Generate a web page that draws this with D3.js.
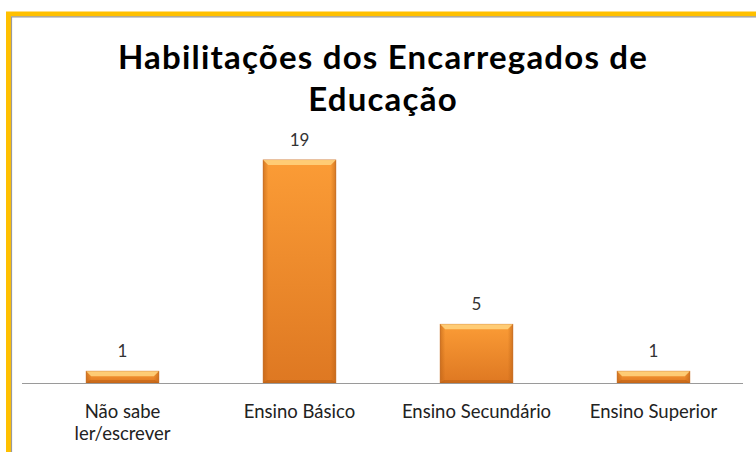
<!DOCTYPE html>
<html>
<head>
<meta charset="utf-8">
<script src="https://cdn.jsdelivr.net/npm/d3@7"></script>
<style>
  body { margin: 0; background: #fff; }
  svg { display: block; }
</style>
</head>
<body>
<svg id="chart"></svg>
<script>
// data
const categories = ["Não sabe\nler/escrever", "Ensino Básico", "Ensino Secundário", "Ensino Superior"];
const values = [1, 19, 5, 1];
const titleLines = ["Habilitações dos Encarregados de", "Educação"];

const width = 756, height = 452;
const margin = {top: 160, right: 14, bottom: 69, left: 34};
const font = "Lato, 'Open Sans', sans-serif";

const svg = d3.select("#chart")
    .attr("width", width)
    .attr("height", height)
    .style("font-family", font);

// gradients for the bevelled bars
const defs = svg.append("defs");
const grad = defs.append("linearGradient").attr("id", "barFill")
    .attr("x1", 0).attr("y1", 0).attr("x2", 0).attr("y2", 1);
grad.append("stop").attr("offset", "0%").attr("stop-color", "#fb9c36");
grad.append("stop").attr("offset", "100%").attr("stop-color", "#de7822");

const side = defs.append("linearGradient").attr("id", "barSide")
    .attr("x1", 0).attr("y1", 0).attr("x2", 1).attr("y2", 0);
side.append("stop").attr("offset", "0%").attr("stop-color", "#b85f14").attr("stop-opacity", 0.55);
side.append("stop").attr("offset", "7%").attr("stop-color", "#b85f14").attr("stop-opacity", 0);
side.append("stop").attr("offset", "93%").attr("stop-color", "#b85f14").attr("stop-opacity", 0);
side.append("stop").attr("offset", "100%").attr("stop-color", "#b85f14").attr("stop-opacity", 0.55);

// frame
svg.append("rect")
    .attr("x", 8.5).attr("y", 14)
    .attr("width", width).attr("height", height)
    .attr("fill", "none")
    .attr("stroke", "#ffc000")
    .attr("stroke-width", 5);
svg.append("path")
    .attr("d", `M11.5,${height} V16.8 H${width}`)
    .attr("fill", "none")
    .attr("stroke", "#9a9a9a")
    .attr("stroke-width", 1.2);

// title
svg.append("text")
    .attr("x", 383)
    .attr("text-anchor", "middle")
    .style("font-weight", "bold")
    .style("font-size", "33px")
    .style("letter-spacing", "1.2px")
    .attr("fill", "#000")
    .selectAll("tspan")
    .data(titleLines)
    .join("tspan")
    .attr("x", 383)
    .attr("y", (d, i) => 69 + i * 42)
    .text(d => d);

const x = d3.scaleBand()
    .domain(d3.range(categories.length))
    .range([margin.left, width - margin.right])
    .paddingInner(0.59)
    .paddingOuter(0.295);

const y = d3.scaleLinear()
    .domain([0, 19])
    .range([height - margin.bottom, margin.top]);

// bars
const bars = svg.append("g").selectAll("g")
    .data(values)
    .join("g");

bars.append("rect")
    .attr("x", (d, i) => x(i))
    .attr("y", d => y(d))
    .attr("width", x.bandwidth())
    .attr("height", d => y(0) - y(d))
    .attr("fill", "url(#barFill)")
    .attr("stroke", "#c9691a")
    .attr("stroke-width", 0.8);

bars.append("rect")
    .attr("x", (d, i) => x(i))
    .attr("y", d => y(d))
    .attr("width", x.bandwidth())
    .attr("height", d => y(0) - y(d))
    .attr("fill", "url(#barSide)");

// top bevel highlight
bars.append("path")
    .attr("d", (d, i) => {
        const x0 = x(i), x1 = x(i) + x.bandwidth(), t = y(d);
        return `M${x0},${t} H${x1} L${x1 - 5},${t + 5} H${x0 + 5} Z`;
    })
    .attr("fill", "#ffd27c")
    .attr("opacity", 0.9);

// bottom bevel
bars.append("path")
    .attr("d", (d, i) => {
        const x0 = x(i), x1 = x(i) + x.bandwidth(), b = y(0);
        return `M${x0},${b} H${x1} L${x1 - 4},${b - 3} H${x0 + 4} Z`;
    })
    .attr("fill", "#b65c12")
    .attr("opacity", 0.5);

// value labels
svg.append("g").selectAll("text")
    .data(values)
    .join("text")
    .attr("x", (d, i) => x(i) + x.bandwidth() / 2)
    .attr("y", d => y(d) - 14)
    .attr("text-anchor", "middle")
    .style("font-size", "17px")
    .attr("fill", "#333")
    .text(d => d);

// x axis line
svg.append("line")
    .attr("x1", 22).attr("x2", 743)
    .attr("y1", y(0) + 0.5).attr("y2", y(0) + 0.5)
    .attr("stroke", "#9a9a9a")
    .attr("stroke-width", 1);

// category labels
svg.append("g").selectAll("text")
    .data(categories)
    .join("text")
    .attr("text-anchor", "middle")
    .style("font-size", "18.5px")
    .attr("fill", "#222")
    .each(function(d, i) {
        d3.select(this).selectAll("tspan")
            .data(d.split("\n"))
            .join("tspan")
            .attr("x", x(i) + x.bandwidth() / 2)
            .attr("y", (t, j) => 418 + j * 22)
            .text(t => t);
    });
</script>
</body>
</html>
